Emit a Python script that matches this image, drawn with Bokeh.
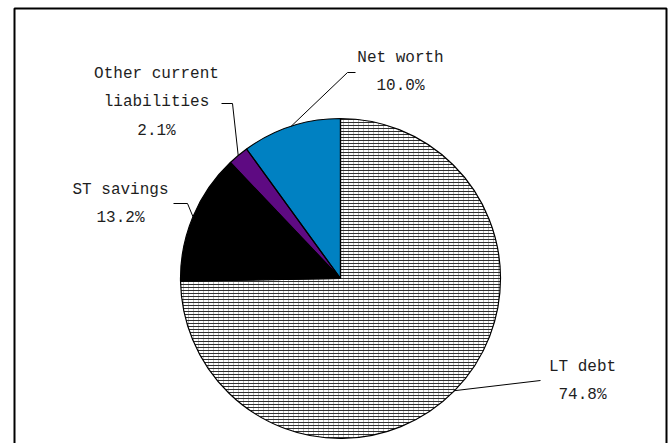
import math

from bokeh.core.properties import value
from bokeh.embed import file_html
from bokeh.models import ColumnDataSource, Range1d
from bokeh.plotting import figure
from bokeh.resources import INLINE

# ---- data -------------------------------------------------------------
categories = ["LT debt", "ST savings", "Other current liabilities", "Net worth"]
shares = [74.8, 13.2, 2.1, 10.0]          # percent of total
label_lines = [["LT debt"], ["ST savings"], ["Other current", "liabilities"], ["Net worth"]]

# ---- layout / style ---------------------------------------------------
W, H = 671, 443
CX, CY, R = 340, 278, 160                  # pie centre and radius (pixels from top-left)
LINE_STEP = 28.5                           # vertical distance between label rows
label_pos = [(582, 366), (120, 189), (156, 73), (400, 57)]      # first row centre
elbows = [[(540, 380)],
          [(187, 203), (173, 203)],
          [(232, 103), (221, 103)],
          [(347, 72), (355, 72)]]
fills = ["white", "black", "#5e0a82", "#0081c2"]
FONT = value("Liberation Mono")


def Y(y):
    """pixel row (from top) -> data y (upwards)"""
    return H - y


p = figure(width=W, height=H, output_backend="svg", toolbar_location=None,
           x_range=Range1d(0, W), y_range=Range1d(0, H),
           x_axis_location=None, y_axis_location=None, min_border=0)
p.grid.visible = False
p.outline_line_color = None
p.background_fill_color = "white"
p.border_fill_color = "white"

# wedge angles: start at 12 o'clock, run clockwise
total = sum(shares)
starts, ends, mids = [], [], []
a = math.pi / 2
for s in shares:
    sweep = 2 * math.pi * s / total
    starts.append(a)
    ends.append(a - sweep)
    mids.append(a - sweep / 2)
    a -= sweep

src = ColumnDataSource(dict(x=[CX] * len(shares), y=[Y(CY)] * len(shares),
                            start=starts, end=ends, fill=fills, cat=categories))

# base slices
p.wedge(x="x", y="y", radius=R, radius_units="screen", start_angle="start",
        end_angle="end", direction="clock", fill_color="fill",
        line_color=None, source=src)

# fine ruling on the first slice
hatch_src = ColumnDataSource(dict(x=[CX], y=[Y(CY)], start=[starts[0]], end=[ends[0]]))
p.wedge(x="x", y="y", radius=R, radius_units="screen", start_angle="start",
        end_angle="end", direction="clock", fill_color=None, line_color=None,
        hatch_pattern="|", hatch_scale=5, hatch_weight=1, hatch_color="#bdbdbd",
        source=hatch_src)
p.wedge(x="x", y="y", radius=R, radius_units="screen", start_angle="start",
        end_angle="end", direction="clock", fill_color=None, line_color=None,
        hatch_pattern="-", hatch_scale=3, hatch_weight=1, hatch_color="#2e2e2e",
        source=hatch_src)

# slice outlines
p.wedge(x="x", y="y", radius=R, radius_units="screen", start_angle="start",
        end_angle="end", direction="clock", fill_color=None,
        line_color="black", line_width=1.2, source=src)

# leader lines from each slice's mid-arc to its label
xs, ys = [], []
for m, el in zip(mids, elbows):
    px, py = CX + R * math.cos(m), CY - R * math.sin(m)
    xs.append([px] + [e[0] for e in el])
    ys.append([Y(py)] + [Y(e[1]) for e in el])
p.multi_line(xs=xs, ys=ys, line_color="black", line_width=1)

# labels: name rows followed by the percentage
tx, ty, tt = [], [], []
for lines, s, (lx, ly) in zip(label_lines, shares, label_pos):
    rows = lines + [f"{s:.1f}%"]
    for i, row in enumerate(rows):
        tx.append(lx)
        ty.append(Y(ly + i * LINE_STEP))
        tt.append(row)
p.text(x=tx, y=ty, text=tt, text_font=FONT, text_font_size="16px",
       text_color="#1e1e1e", text_align="center", text_baseline="middle")

# chart-area border (bottom edge runs past the page)
p.multi_line(xs=[[14, 14, 666, 666]], ys=[[Y(460), Y(8), Y(8), Y(460)]],
             line_color="black", line_width=2)

open("out.html", "w").write(file_html(p, INLINE))
